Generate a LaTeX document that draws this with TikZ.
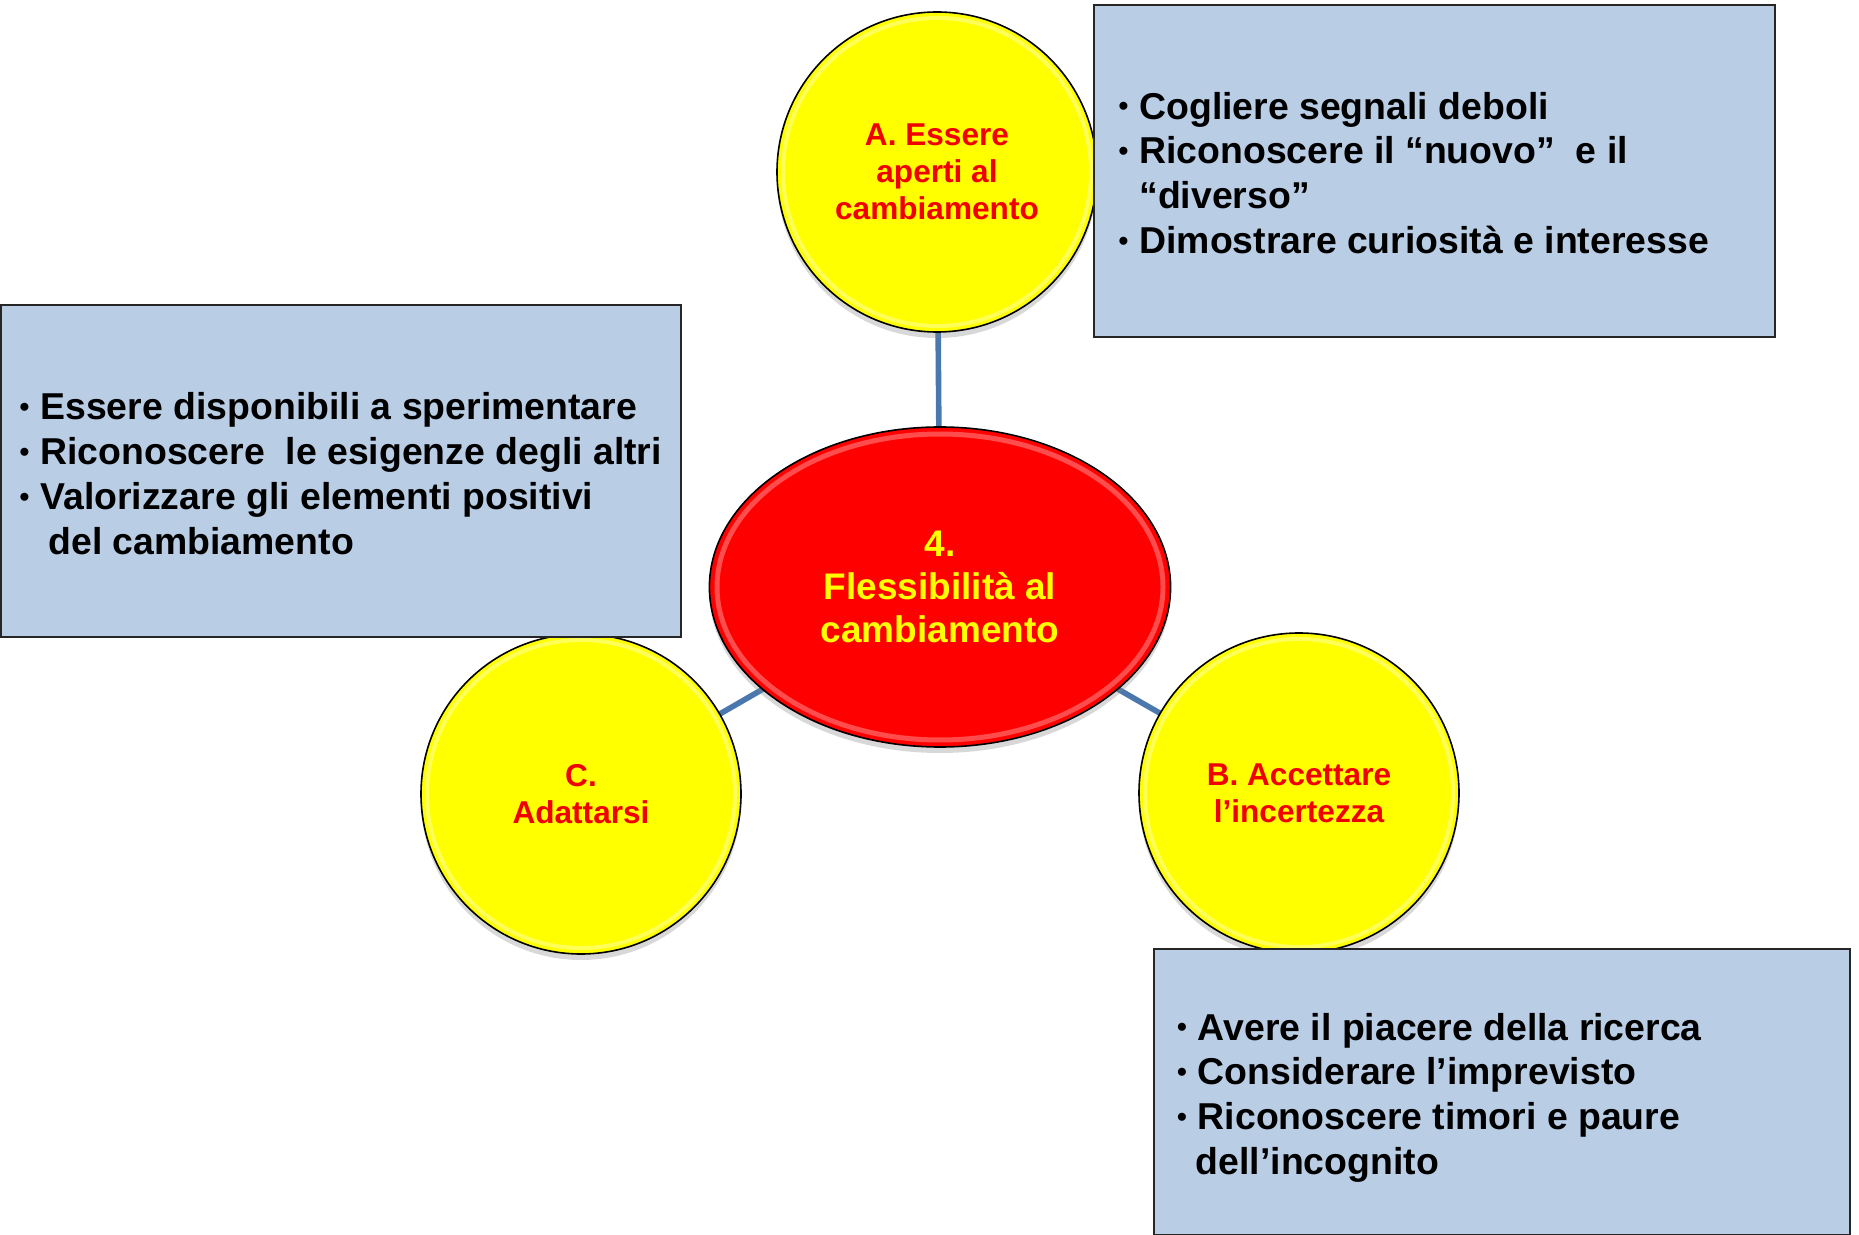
\documentclass[tikz,border=0pt]{standalone}
\usepackage{fontspec}
\setmainfont{Liberation Sans}
\usetikzlibrary{shapes.geometric,backgrounds,shadows}
\definecolor{boxblue}{HTML}{B9CDE5}
\definecolor{linkblue}{HTML}{4A78AE}
\definecolor{bubyellow}{RGB}{255,255,0}
\definecolor{corered}{RGB}{255,0,0}
\definecolor{labelred}{RGB}{240,0,0}
\newcommand{\bul}{\llap{\raisebox{1.6pt}{\fontsize{14}{14}\selectfont •}\kern5.5pt}}
\begin{document}
\begin{tikzpicture}[x=0.5pt,y=-0.5pt,
  bubble/.style={circle, draw=black, line width=0.8pt, fill=bubyellow, minimum size=160pt,
    inner sep=0pt, outer sep=0pt, align=center, text=labelred,
    font=\bfseries\fontsize{15.8}{18.5}\selectfont,
    drop shadow={shadow xshift=0pt, shadow yshift=-3pt, opacity=0.3},
    path picture={\draw[white, opacity=0.35, line width=2pt]
      (path picture bounding box.center) circle [radius=77pt];}},
  core/.style={ellipse, draw=black, line width=0.8pt, fill=corered, minimum width=230.6pt,
    minimum height=160pt, inner sep=0pt, outer sep=0pt, align=center, text=bubyellow,
    font=\bfseries\fontsize{18.5}{21.3}\selectfont,
    drop shadow={shadow xshift=0pt, shadow yshift=-3pt, opacity=0.3},
    path picture={\draw[white, opacity=0.3, line width=2.5pt]
      (path picture bounding box.center) ellipse [x radius=111.5pt, y radius=76.5pt];}},
  panel/.style={rectangle, draw=black!85, line width=1pt, fill=boxblue, inner sep=0pt,
    outer sep=0pt, anchor=north west},
  paneltext/.style={align=left, anchor=base west, inner sep=0pt,
    font=\bfseries\fontsize{18.7}{22.4}\selectfont},
  link/.style={draw=linkblue, line width=2.8pt}]
\useasboundingbox (0,0) rectangle (1859,1235);

\node[core] (core) at (940,587) {4.\\Flessibilità al\\cambiamento};
\node[bubble] (A) at (937,172) {A. Essere\\aperti al\\cambiamento};
\node[bubble] (B) at (1299,793) {B. Accettare\\l’incertezza};
\node[bubble] (C) at (581,794) {C.\\Adattarsi};

\begin{scope}[on background layer]
\fill[white] (0,0) rectangle (1859,1235);
\draw[link] (core) -- (A);
\draw[link] (core) -- (B);
\draw[link] (core) -- (C);
\end{scope}

\node[panel, minimum width=340.5pt, minimum height=166pt] (pA) at (1094,5) {};
\node[panel, minimum width=340pt, minimum height=166pt] (pC) at (1,305) {};
\node[panel, minimum width=348pt, minimum height=143pt] (pB) at (1154,949) {};

\node[paneltext] (tA) at (1139,253.5) {\bul Cogliere segnali deboli\\
\bul Riconoscere il “nuovo”~ e il\\
“diverso”\\
\bul Dimostrare curiosità e interesse};

\node[paneltext] (tC) at (40,554) {\bul Essere disponibili a sperimentare\\
\bul Riconoscere~ le esigenze degli altri\\
\bul Valorizzare gli elementi positivi\\
\hspace*{4pt}del cambiamento};

\node[paneltext] (tB) at (1197.5,1174.5) {\bul Avere il piacere della ricerca\\
\bul Considerare l’imprevisto\\
\bul Riconoscere timori e paure\\
\hspace*{-1pt}dell’incognito};
\end{tikzpicture}
\end{document}
